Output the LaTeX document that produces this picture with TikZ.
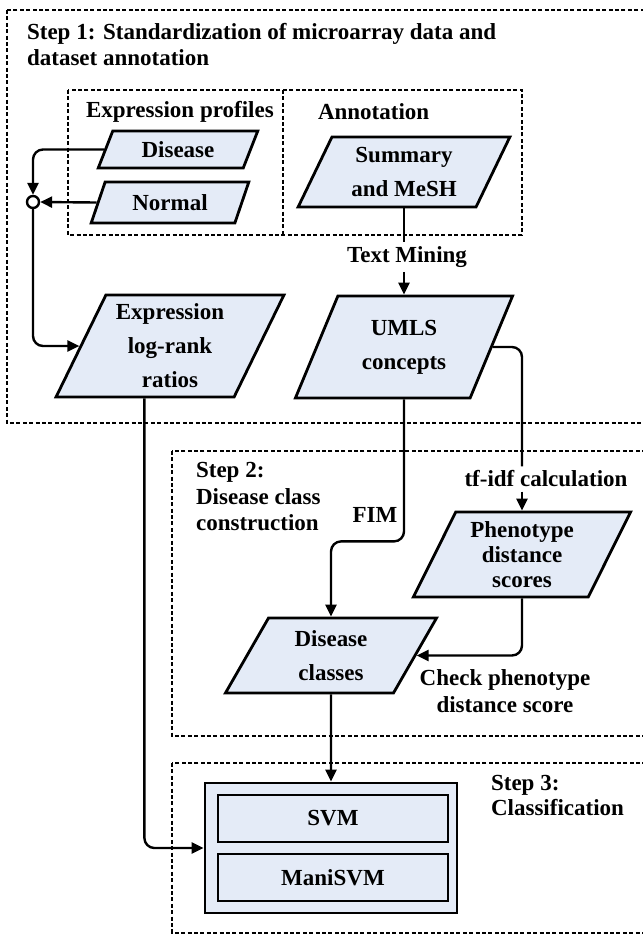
\documentclass[tikz,border=0pt]{standalone}
\usepackage{fontspec}
\setmainfont{Liberation Serif}
\usetikzlibrary{shapes.geometric,arrows.meta}
\definecolor{nenxanh}{RGB}{228,235,247}
\begin{document}
\begin{tikzpicture}[x=0.5pt, y=-0.5pt, >={Triangle[length=6pt,width=5.5pt]},
	every node/.style={font=\fontsize{11.5}{13}\selectfont\bfseries},
	khung/.style={line width=0.9pt, dash pattern=on 2pt off 1.2pt},
	dulieu/.style={trapezium, trapezium left angle=63.43, trapezium right angle=116.57,
		trapezium stretches=true, draw, line width=1.4pt, fill=nenxanh, inner sep=0pt,
		align=center, font=\fontsize{11.5}{17}\selectfont\bfseries},
	hop/.style={draw, line width=1.4pt, fill=nenxanh, inner sep=0pt},
	noi/.style={line width=1.2pt, rounded corners=5pt},
	nhan/.style={inner sep=2pt, align=center}]
	\useasboundingbox (0,0) rectangle (643,934);
	\clip (0,0) rectangle (643,934);
	
	% Khung các bước
	\draw[khung] (7,10) rectangle (700,423);
	\draw[khung] (68,90) rectangle (522,235);
	\draw[khung] (283,90) -- (283,235);
	\draw[khung] (172,451) rectangle (700,736);
	\draw[khung] (172,763) rectangle (700,933);
	
	% Tiêu đề
	\node[anchor=west, align=left] (buoc1) at (20,45) {Step 1: Standardization of microarray data and\\dataset annotation};
	\node[anchor=west] (bieuhien) at (79,112) {Expression profiles};
	\node[anchor=west] (chuthich) at (311,112) {Annotation};
	\node[anchor=west, align=left, font=\fontsize{11.5}{13.25}\selectfont\bfseries] (buoc2) at (189,497) {Step 2:\\Disease class\\construction};
	\node[anchor=west, align=left, font=\fontsize{11.5}{12.5}\selectfont\bfseries] (buoc3) at (484,795.5) {Step 3:\\Classification};
	
	% Dữ liệu
	\node[dulieu, minimum width=80pt, minimum height=18.5pt] (benh) at (178,149.5) {Disease};
	\node[dulieu, minimum width=79pt, minimum height=20.5pt] (thuong) at (170,202.5) {Normal};
	\node[dulieu, minimum width=106pt, minimum height=35pt] (tomtat) at (404,172) {Summary\\and MeSH};
	\node[dulieu, minimum width=115pt, minimum height=51pt] (tyle) at (170,346) {Expression\\log-rank\\ratios};
	\node[dulieu, minimum width=109pt, minimum height=51pt] (umls) at (404,347) {UMLS\\concepts};
	\node[dulieu, minimum width=109.5pt, minimum height=42.5pt, font=\fontsize{11.5}{12.5}\selectfont\bfseries] (kieuhinh) at (522,554.5) {Phenotype\\distance\\scores};
	\node[dulieu, minimum width=106pt, minimum height=37.5pt] (lopbenh) at (331,655.5) {Disease\\classes};
	\node[circle, draw, fill=white, line width=1.2pt, minimum size=6pt, inner sep=0pt] (giao) at (33,202) {};
	
	% Bộ phân lớp
	\node[hop, minimum width=126pt, minimum height=65pt] (phanlop) at (331,848) {};
	\node[hop, minimum width=115pt, minimum height=23.5pt] (svm) at (333,818.5) {SVM};
	\node[hop, minimum width=115pt, minimum height=23.5pt] (manisvm) at (333,877.5) {ManiSVM};
	
	% Nhãn
	\node[nhan] (khaipha) at (407,257) {Text Mining};
	\node[nhan] (tfidf) at (546,479) {tf-idf calculation};
	\node[nhan] (fim) at (375,515) {FIM};
	\node[nhan, font=\fontsize{11.5}{13.5}\selectfont\bfseries] (kiemtra) at (505,691.5) {Check phenotype\\distance score};
	
	% Mũi tên
	\draw[noi, ->] (benh.west) -| (giao.north);
	\draw[noi, ->] (thuong.west) -- (giao.east);
	\draw[noi, ->] (giao.south) |- (tyle.west);
	\draw[noi] (tomtat.south) -- (tomtat.south |- khaipha.north);
	\draw[noi, ->] (umls.north |- khaipha.south) -- (umls.north);
	\draw[noi] (umls.east) -| (kieuhinh.north |- tfidf.north);
	\draw[noi, ->] (kieuhinh.north |- tfidf.south) -- (kieuhinh.north);
	\draw[noi, ->] (umls.south) -- ++(0,142) -| (lopbenh.north);
	\draw[noi, ->] (kieuhinh.south) |- (lopbenh.east);
	\draw[noi, ->] (lopbenh.south) -- (phanlop.north);
	\draw[noi, ->] (tyle.bottom side) |- (phanlop.west);
\end{tikzpicture}
\end{document}
